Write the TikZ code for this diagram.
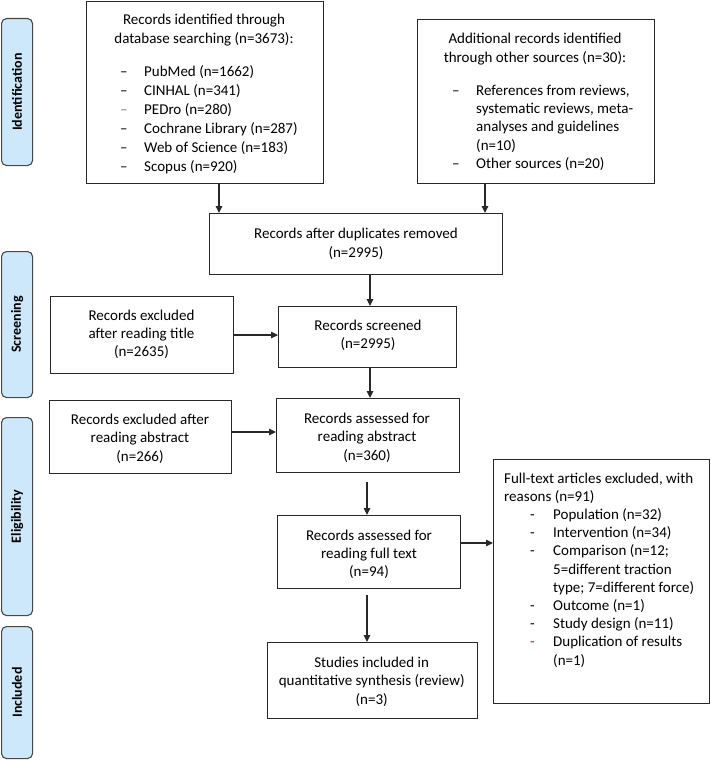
\documentclass[tikz,border=0pt]{standalone}
\usepackage{fontspec}
\setmainfont{Carlito}
\usetikzlibrary{arrows.meta}
\definecolor{sideblue}{RGB}{204,232,250}
\definecolor{edge}{RGB}{40,40,40}
\newcommand\ctab[1]{\begin{tabular}{@{}c@{}}#1\end{tabular}}
\begin{document}
\begin{tikzpicture}[x=1pt,y=-1pt,
  box/.style={draw=edge,line width=1.1pt,anchor=north west,inner sep=0pt},
  side/.style={draw=edge!85,fill=sideblue,line width=1.1pt,rounded corners=5pt,anchor=north west,inner sep=0pt,minimum width=31pt},
  sidetext/.style={font=\fontsize{14}{16}\selectfont\bfseries,rotate=90,inner sep=0pt},
  txt/.style={font=\fontsize{15}{18.3}\selectfont,inner sep=0pt},
  lst/.style={font=\fontsize{15}{18.3}\selectfont,inner sep=0pt,anchor=north west},
  arr/.style={line width=1.2pt,draw=edge,-{Triangle[length=7pt,width=6.5pt]}}]
\useasboundingbox (0,0) rectangle (710,760);

% side labels
\node[side,minimum height=147pt] (sI) at (1,18) {};
\node[sidetext] (sIt) at (sI.center) {Identification};
\node[side,minimum height=146pt] (sS) at (1,251) {};
\node[sidetext] (sSt) at (sS.center) {Screening};
\node[side,minimum height=198pt] (sE) at (1,417) {};
\node[sidetext] (sEt) at (sE.center) {Eligibility};
\node[side,minimum height=132pt] (sN) at (1,626) {};
\node[sidetext] (sNt) at (sN.center) {Included};

% boxes
\node[box,minimum width=237pt,minimum height=182pt] (b1) at (86,1) {};
\node[box,minimum width=237pt,minimum height=164pt] (b2) at (417,19) {};
\node[box,minimum width=293pt,minimum height=61pt] (dup) at (209,213) {};
\node[box,minimum width=183pt,minimum height=77pt] (exT) at (50,296) {};
\node[box,minimum width=178pt,minimum height=61pt] (scr) at (278,306) {};
\node[box,minimum width=182pt,minimum height=73pt] (exA) at (49,400) {};
\node[box,minimum width=183pt,minimum height=74pt] (abs) at (276,398) {};
\node[box,minimum width=183pt,minimum height=73pt] (full) at (277,515) {};
\node[box,minimum width=210pt,minimum height=76pt] (incl) at (267,642) {};
\node[box,minimum width=216pt,minimum height=244pt] (rbox) at (493,459) {};

% texts
\node[txt] (b1t) at (204,30.3) {\ctab{Records identified through\\database searching (n=3673):}};
\node[lst,font=\fontsize{15}{19}\selectfont] (b1l) at (120,62.7) {\begin{tabular}{@{}p{24pt}@{}l@{}}
– & PubMed (n=1662)\\
– & CINHAL (n=341)\\
\textcolor{gray}{–} & PEDro (n=280)\\
– & Cochrane Library (n=287)\\
– & Web of Science (n=183)\\
– & Scopus (n=920)
\end{tabular}};
\node[txt] (b2t) at (535,49.3) {\ctab{Additional records identified\\through other sources (n=30):}};
\node[lst] (b2l) at (452,82.2) {\begin{tabular}{@{}p{24pt}@{}l@{}}
– & References from reviews,\\
 & systematic reviews, meta-\\
 & analyses and guidelines\\
 & (n=10)\\
– & Other sources (n=20)
\end{tabular}};
\node[txt] (dupt) at (356,244.3) {\ctab{Records after duplicates removed\\(n=2995)}};
\node[txt] (scrt) at (368,335.8) {\ctab{Records screened\\(n=2995)}};
\node[txt] (exTt) at (141.5,334.8) {\ctab{Records excluded\\after reading title\\(n=2635)}};
\node[txt] (exAt) at (140,439.3) {\ctab{Records excluded after\\reading abstract\\(n=266)}};
\node[txt] (abst) at (367,438.3) {\ctab{Records assessed for\\reading abstract\\(n=360)}};
\node[txt] (fullt) at (369,554.8) {\ctab{Records assessed for\\reading full text\\(n=94)}};
\node[txt] (inclt) at (371.7,682.3) {\ctab{Studies included in\\quantitative synthesis (review)\\(n=3)}};
\node[lst,font=\fontsize{15}{18.2}\selectfont] (rl) at (504,470.2) {\begin{tabular}{@{}p{26pt}@{}p{23pt}@{}l@{}}
\multicolumn{3}{@{}l@{}}{Full-text articles excluded, with}\\
\multicolumn{3}{@{}l@{}}{reasons (n=91)}\\
 & - & Population (n=32)\\
 & - & Intervention (n=34)\\
 & - & Comparison (n=12;\\
 &  & 5=different traction\\
 &  & type; 7=different force)\\
 & - & Outcome (n=1)\\
 & - & Study design (n=11)\\
 & \textcolor{red}{-} & Duplication of results\\
 &  & (n=1)
\end{tabular}};

% connectors
\coordinate (c219) at (219,0);
\coordinate (c485) at (485,0);
\coordinate (c370) at (370,0);
\coordinate (c367) at (367,0);
\coordinate (y432) at (0,432);
\coordinate (y543) at (0,543);
\draw[arr] (b1.south -| c219) -- (dup.north -| c219);
\draw[arr] (b2.south -| c485) -- (dup.north -| c485);
\draw[arr] (dup.south -| c370) -- (scr.north -| c370);
\draw[arr] (exT.east) -- (exT.east -| scr.west);
\draw[arr] (scr.south -| c370) -- (abs.north -| c370);
\draw[arr] (exA.east |- y432) -- (abs.west |- y432);
\draw[arr,shorten <=9pt] (abs.south -| c367) -- (full.north -| c367);
\draw[arr,shorten <=6pt] (full.south -| c367) -- (incl.north -| c367);
\draw[arr] (full.east |- y543) -- (rbox.west |- y543);
\end{tikzpicture}
\end{document}
